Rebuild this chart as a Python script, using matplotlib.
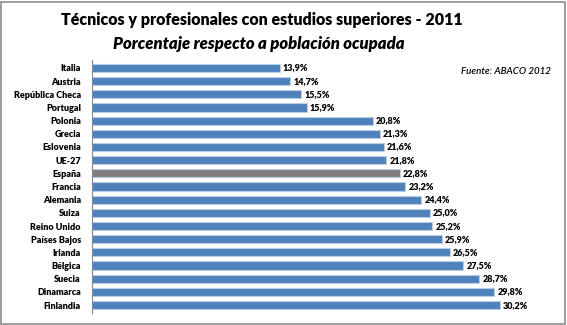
import matplotlib
matplotlib.use("Agg")
import matplotlib.pyplot as plt
from matplotlib.patches import Rectangle

paises = ["Italia", "Austria", "República Checa", "Portugal", "Polonia", "Grecia",
          "Eslovenia", "UE-27", "España", "Francia", "Alemania", "Suiza",
          "Reino Unido", "Países Bajos", "Irlanda", "Bélgica", "Suecia",
          "Dinamarca", "Finlandia"]
valores = [13.9, 14.7, 15.5, 15.9, 20.8, 21.3, 21.6, 21.8, 22.8, 23.2, 24.4, 25.0,
           25.2, 25.9, 26.5, 27.5, 28.7, 29.8, 30.2]
destacado = "España"

AZUL = "#4F81BD"
GRIS = "#7F7F7F"
FAM = ["Lato", "DejaVu Sans"]

W, H = 567, 325
fig = plt.figure(figsize=(W / 100, H / 100), dpi=100)
fig.patch.set_facecolor("white")
fig.add_artist(Rectangle((1 / W, 1 / H), 1 - 3 / W, 1 - 3 / H, transform=fig.transFigure,
                         fill=False, ec="#8C8C8C", lw=1.2))

ax = fig.add_axes([92 / W, 1 - 313 / H, 453 / W, 253 / H])
y = range(len(paises))
colores = [GRIS if p == destacado else AZUL for p in paises]
ax.barh(y, valores, height=0.62, color=colores, edgecolor="#B9CDE5", lw=0.8)
for yi, v in zip(y, valores):
    ax.text(v + 0.25, yi, f"{v:.1f}%".replace(".", ","), va="center", ha="left",
            fontsize=6.5, fontweight="heavy", family=FAM)

ax.set_xlim(0, 453 / 13.5)
ax.set_ylim(18.6, -0.6)
ax.set_yticks(list(y))
ax.set_yticklabels(paises, fontsize=6.5, fontweight="heavy", family=FAM)
ax.tick_params(axis="y", length=0, pad=8)
ax.set_xticks([])
for s in ["top", "right", "bottom"]:
    ax.spines[s].set_visible(False)
ax.spines["left"].set_color("#868686")
ax.spines["left"].set_linewidth(0.8)

fig.text(262 / W, 1 - 20 / H, "Técnicos y profesionales con estudios superiores - 2011",
         ha="center", va="center", fontsize=11.5, fontweight="heavy", family=FAM)
fig.text(259 / W, 1 - 44 / H, "Porcentaje respecto a población ocupada",
         ha="center", va="center", fontsize=12, fontweight="heavy", style="italic", family=FAM)
fig.text(551 / W, 1 - 72 / H, "Fuente: ABACO 2012", ha="right", va="center",
         fontsize=7, fontweight="semibold", style="italic", family=FAM)

fig.savefig("out.png", dpi=100)
